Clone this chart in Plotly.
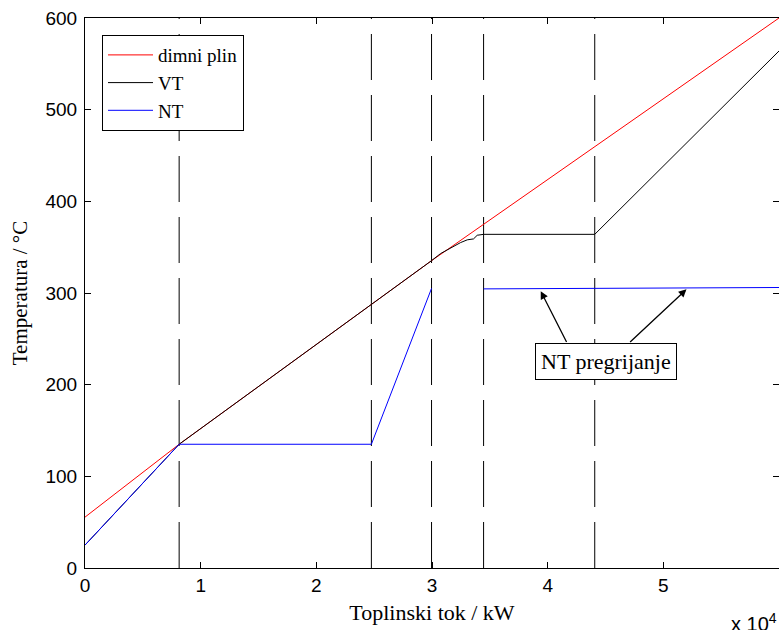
import plotly.graph_objects as go

# data (x in units of 10^4 kW, y in °C)
x_gas = [0, 0.814, 2.993, 6]
y_gas = [55.5, 135, 335, 600]

x_vt = [0, 0.814, 2.993, 3.074, 3.247, 3.305, 3.359, 3.391, 3.446, 4.407, 6]
y_vt = [25, 135, 335, 343, 355, 358, 359, 363, 364, 364, 564]

x_nt = [0, 0.814, 2.476, 2.996, None, 3.446, 6]
y_nt = [25, 135, 135, 305, None, 304.5, 306]

dashed_x = [0.814, 2.476, 2.996, 3.446, 4.407]

arrow_tips_x = [3.94, 5.20]
arrow_tips_y = [302, 304]
arrow_tails_x = [4.17, 4.70]
arrow_tails_y = [245, 245]

x_ticks = [0, 1, 2, 3, 4, 5]
y_ticks = [0, 100, 200, 300, 400, 500, 600]

serif = "Liberation Serif, Times New Roman, serif"
sans = "Liberation Sans, Arial, sans-serif"

fig = go.Figure()
fig.add_trace(go.Scatter(x=x_gas, y=y_gas, mode="lines", name="dimni plin",
                         line=dict(color="#ff0000", width=1)))
fig.add_trace(go.Scatter(x=x_vt, y=y_vt, mode="lines", name="VT",
                         line=dict(color="#000000", width=1)))
fig.add_trace(go.Scatter(x=x_nt, y=y_nt, mode="lines", name="NT",
                         line=dict(color="#0000ff", width=1), connectgaps=False))

for xv in dashed_x:
    fig.add_shape(type="line", xref="x", yref="y", x0=xv, x1=xv, y0=0, y1=600,
                  line=dict(color="black", width=1, dash="46px,15px"), layer="below")

for tx, ty, ax, ay in zip(arrow_tips_x, arrow_tips_y, arrow_tails_x, arrow_tails_y):
    fig.add_annotation(x=tx, y=ty, ax=ax, ay=ay, xref="x", yref="y", axref="x", ayref="y",
                       text="", showarrow=True, arrowhead=2, arrowsize=1.2, arrowwidth=1.3,
                       arrowcolor="black")

fig.add_annotation(x=4.50, y=225, xref="x", yref="y", text="NT pregrijanje", showarrow=False,
                   font=dict(family=serif, size=22, color="black"),
                   bordercolor="black", borderwidth=1, borderpad=5, bgcolor="white")

fig.add_annotation(x=0.928, y=-0.072, xref="paper", yref="paper", xanchor="left", yanchor="top",
                   text="x 10<sup>4</sup>", showarrow=False,
                   font=dict(family=sans, size=20, color="black"))

fig.update_layout(
    width=779, height=630,
    margin=dict(l=85, r=0, t=18, b=62),
    paper_bgcolor="white", plot_bgcolor="white",
    showlegend=True,
    legend=dict(x=0.0245, y=0.969, xanchor="left", yanchor="top",
                bordercolor="black", borderwidth=1, bgcolor="white",
                font=dict(family=serif, size=19, color="black"),
                tracegroupgap=0, itemwidth=45),
    xaxis=dict(range=[0, 6], tickvals=x_ticks, ticktext=[str(v) for v in x_ticks],
               ticks="inside", ticklen=6, tickcolor="black", showline=True, linecolor="black",
               linewidth=1, mirror="ticks", showgrid=False, zeroline=False,
               tickfont=dict(family=sans, size=19, color="black"),
               title=dict(text="Toplinski tok / kW", font=dict(family=serif, size=22, color="black"),
                          standoff=9)),
    yaxis=dict(range=[0, 600], tickvals=y_ticks,
               ticks="inside", ticklen=6, tickcolor="black", showline=True, linecolor="black",
               linewidth=1, mirror="ticks", showgrid=False, zeroline=False,
               ticklabelstandoff=3,
               tickfont=dict(family=sans, size=19, color="black"),
               title=dict(text="Temperatura / °C", font=dict(family=serif, size=21, color="black"),
                          standoff=12)),
)

fig.write_html("out.html", config={"displayModeBar": False},
               post_script="document.body.style.margin='0';document.body.style.overflow='hidden';")
